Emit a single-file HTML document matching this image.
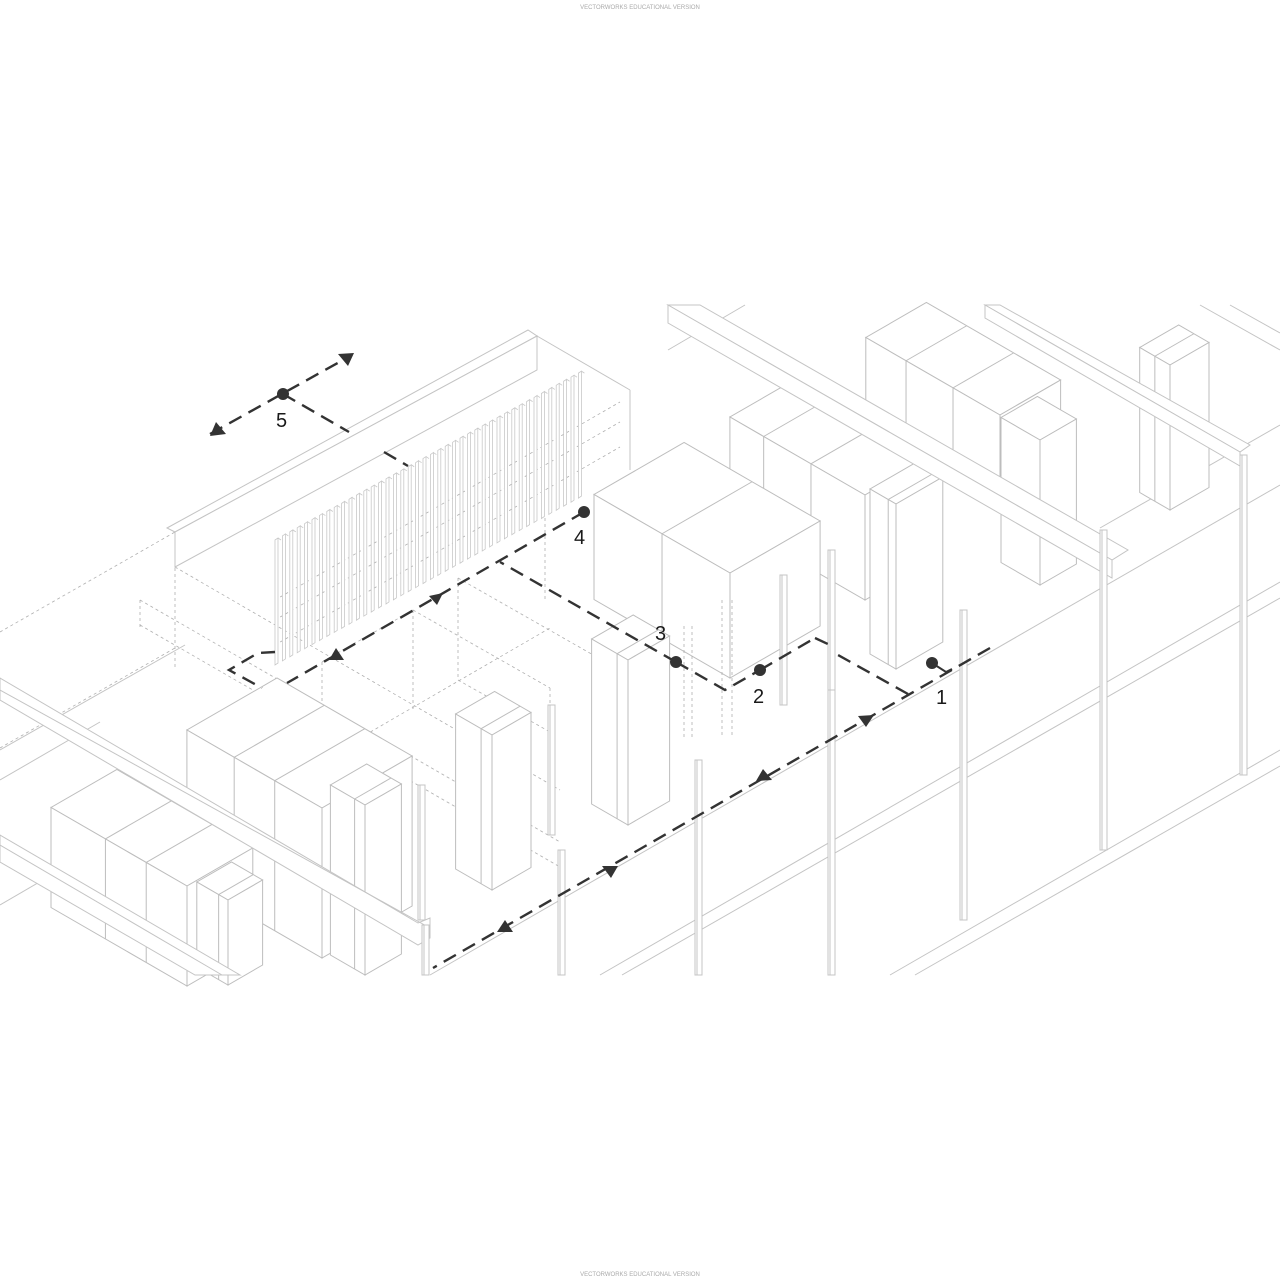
<!DOCTYPE html>
<html><head><meta charset="utf-8">
<style>
html,body{margin:0;padding:0;background:#fff;}
svg{display:block}
.w{font-family:"Liberation Sans",sans-serif;font-size:6px;fill:#aaa;}
.n{font-family:"Liberation Sans",sans-serif;font-size:20px;fill:#1a1a1a;}
</style></head>
<body>
<svg id="s" width="1280" height="1280" viewBox="0 0 1280 1280" xmlns="http://www.w3.org/2000/svg">
<rect width="1280" height="1280" fill="#fff"/>
<text class="w" x="640" y="9" text-anchor="middle">VECTORWORKS EDUCATIONAL VERSION</text>
<text class="w" x="640" y="1276" text-anchor="middle">VECTORWORKS EDUCATIONAL VERSION</text>
<g fill="none" stroke="#c4c4c4" stroke-width="1">
<line x1="600" y1="975" x2="1280" y2="582"/>
<line x1="622" y1="975" x2="1280" y2="598"/>
<line x1="890" y1="975" x2="1280" y2="750"/>
<line x1="915" y1="975" x2="1280" y2="766"/>
<line x1="430" y1="975" x2="1280" y2="485"/>
<line x1="1200" y1="305" x2="1280" y2="350"/>
<line x1="1230" y1="305" x2="1280" y2="333"/>
<line x1="1100" y1="528" x2="1280" y2="425"/>
<line x1="0" y1="750" x2="185" y2="645"/>
<line x1="0" y1="780" x2="100" y2="722"/>
<line x1="0" y1="905" x2="60" y2="870"/>
<line x1="745" y1="305" x2="668" y2="350"/>
<line x1="537" y1="336" x2="630" y2="390"/>
<line x1="630" y1="390" x2="630" y2="470"/>
</g>
<g fill="none" stroke="#b0b0b0" stroke-width="0.8" stroke-dasharray="3 3">
<line x1="0" y1="632" x2="175" y2="532"/>
<line x1="0" y1="748" x2="175" y2="648"/>
<line x1="175" y1="532" x2="175" y2="668"/>
<line x1="175" y1="567" x2="560" y2="790"/>
<line x1="140" y1="600" x2="560" y2="842"/>
<line x1="140" y1="625" x2="560" y2="867"/>
<line x1="140" y1="600" x2="140" y2="628"/>
<line x1="275" y1="600" x2="620" y2="402"/>
<line x1="275" y1="620" x2="620" y2="422"/>
<line x1="275" y1="645" x2="620" y2="447"/>
<line x1="322" y1="662" x2="322" y2="740"/>
<line x1="322" y1="662" x2="413" y2="610"/>
<line x1="413" y1="610" x2="413" y2="712"/>
<line x1="413" y1="610" x2="550" y2="688"/>
<line x1="458" y1="578" x2="458" y2="680"/>
<line x1="458" y1="578" x2="595" y2="656"/>
<line x1="458" y1="680" x2="550" y2="732"/>
<line x1="550" y1="688" x2="550" y2="790"/>
<line x1="595" y1="656" x2="595" y2="700"/>
<line x1="595" y1="656" x2="684" y2="605"/>
<line x1="545" y1="518" x2="545" y2="600"/>
<line x1="360" y1="738" x2="550" y2="628"/>
</g>
<g id="slats" fill="#fff" stroke="#c8c8c8" stroke-width="0.8"></g>
<g id="boxes" stroke="#bdbdbd" stroke-width="1"></g>
<!-- beams in front -->
<g fill="#fff" stroke="#c4c4c4" stroke-width="1">
<polygon points="668,305 700,305 1128,550 1112,560"/>
<polygon points="668,305 1112,560 1112,578 668,323"/>
<polygon points="985,305 1000,305 1250,445 1240,452"/>
<polygon points="985,305 1240,452 1240,466 985,318"/>
<polygon points="167,528 528,330 537,336 175,532"/>
<polygon points="175,532 537,336 537,370 175,567"/>
<polygon points="0,678 418,923 430,918 430,938 418,945 0,700"/>
<line x1="0" y1="690" x2="430" y2="928"/>
<polygon points="0,835 240,975 195,975 0,862"/>
<line x1="0" y1="845" x2="222" y2="975"/>
</g>
<g id="posts" fill="#fff" stroke="#c4c4c4" stroke-width="1"></g>
<g fill="none" stroke="#b0b0b0" stroke-width="0.8" stroke-dasharray="3 3">
<line x1="684" y1="626" x2="684" y2="740"/>
<line x1="692" y1="626" x2="692" y2="740"/>
<line x1="722" y1="600" x2="722" y2="735"/>
<line x1="732" y1="600" x2="732" y2="735"/>
</g>
<g fill="none" stroke="#333" stroke-width="2.4" stroke-dasharray="14 8">
<line x1="990" y1="648" x2="433" y2="968"/>
<line x1="908" y1="694" x2="838" y2="655"/>
<polyline points="815,638 830,645"/>
<polyline points="676,662 725,690 760,670"/>
<line x1="760" y1="670" x2="815" y2="638"/>
<line x1="676" y1="662" x2="500" y2="562"/>
<line x1="584" y1="512" x2="287" y2="683"/>
<polyline points="275,652 258,653 229,670 262,688"/>
<line x1="210" y1="434" x2="352" y2="355"/>
<line x1="283" y1="394" x2="349" y2="432"/>
<line x1="384" y1="452" x2="408" y2="466"/>
</g>
<g fill="none" stroke="#333" stroke-width="2">
<polyline points="932,663 946,672 952,669"/>
</g>
<g fill="#333">
<circle cx="932" cy="663" r="6"/>
<circle cx="760" cy="670" r="6"/>
<circle cx="676" cy="662" r="6"/>
<circle cx="584" cy="512" r="6"/>
<circle cx="283" cy="394" r="6"/>
<polygon points="210,436 226,434 216,422"/>
<polygon points="354,353 338,354 348,366"/>
<polygon points="874,715 858,716 866,727"/>
<polygon points="756,781 772,780 763,769"/>
<polygon points="443,593 429,596 437,605"/>
<polygon points="329,660 344,660 336,648"/>
<polygon points="602,866 611,878 618,866"/>
<polygon points="497,932 513,932 505,920"/>
</g>
<text class="n" x="936" y="704">1</text>
<text class="n" x="753" y="703">2</text>
<text class="n" x="655" y="640">3</text>
<text class="n" x="574" y="544">4</text>
<text class="n" x="276" y="427">5</text>
</svg>
<script>
var NS="http://www.w3.org/2000/svg";
function el(p,t,a){var e=document.createElementNS(NS,t);for(var k in a)e.setAttribute(k,a[k]);p.appendChild(e);return e;}
var B=document.getElementById('boxes');
function box(px,py,a,b,h,divs){
 var c=0.866,s=0.5;
 var R=[px+a*c,py-a*s],L=[px-b*c,py-b*s],Bk=[px+a*c-b*c,py-a*s-b*s];
 var T=[px,py-h],TR=[R[0],R[1]-h],TL=[L[0],L[1]-h],TB=[Bk[0],Bk[1]-h];
 function pts(a){return a.map(function(p){return p[0].toFixed(1)+','+p[1].toFixed(1)}).join(' ')}
 el(B,'polygon',{points:pts([T,TR,TB,TL]),fill:'#fff'});
 el(B,'polygon',{points:pts([T,TL,L,[px,py]]),fill:'#fff'});
 el(B,'polygon',{points:pts([T,TR,R,[px,py]]),fill:'#fff'});
 if(divs){divs.forEach(function(f){var x=T[0]-b*c*f,y=T[1]-b*s*f;el(B,'line',{x1:x,y1:y,x2:x,y2:y+h});
  el(B,'line',{x1:x,y1:y,x2:x+a*c,y2:y-a*s});});}
}
function post(x,y1,y2){var g=document.getElementById('posts');
 el(g,'rect',{x:x,y:y1,width:7,height:y2-y1});
 el(g,'line',{x1:x+2,y1:y1,x2:x+2,y2:y2});}
box(1000,500,70,155,85,[0.35,0.7]);
box(1170,510,45,35,145,[0.5]);
box(1040,585,42,45,145,[]);
box(865,600,77,156,105,[0.4,0.75]);
box(896,669,54,30,165,[0.3]);
box(730,678,104,157,105,[0.5]);
box(628,825,48,42,165,[0.3]);
box(492,890,45,42,155,[0.3]);
box(322,958,104,156,150,[0.35,0.65]);
box(365,975,42,40,170,[0.3]);
box(187,986,76,157,100,[0.3,0.6]);
box(228,985,40,36,85,[0.3]);
post(780,575,705);post(828,550,690);
post(548,705,835);post(418,785,920);
post(828,690,975);post(960,610,920);post(1100,530,850);post(1240,455,775);
post(695,760,975);post(558,850,975);post(422,925,975);
var S=document.getElementById('slats');
for(var i=0;i<42;i++){var x=275+i*7.4,yt=540-(x-275)*0.55,h=125;
 el(S,'polygon',{points:x+','+yt+' '+(x+3)+','+(yt-2)+' '+(x+3)+','+(yt-2+h)+' '+x+','+(yt+h)});
 el(S,'line',{x1:x+3,y1:yt-2,x2:x+6,y2:yt});}
</script>
</body></html>
